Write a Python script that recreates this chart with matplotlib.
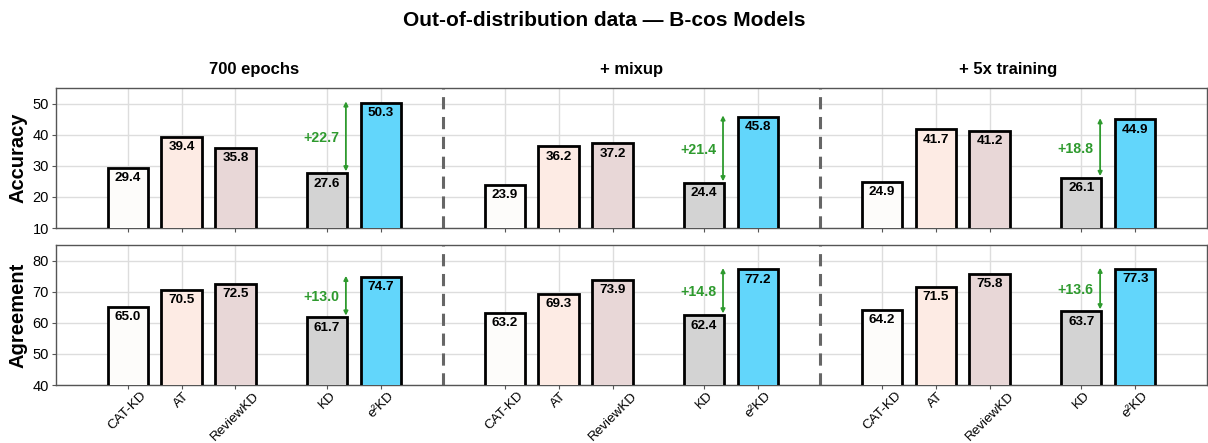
import matplotlib
matplotlib.use("Agg")
import matplotlib.pyplot as plt
import numpy as np

plt.rcParams['font.family'] = ['Liberation Sans', 'DejaVu Sans']

methods = ["CAT-KD", "AT", "ReviewKD", "KD", "e²KD"]
settings = ["700 epochs", "+ mixup", "+ 5x training"]
colors = ["#fdfcfa", "#fdebe4", "#e8d7d7", "#d3d3d3", "#62d6fb"]

accuracy = [
    [29.4, 39.4, 35.8, 27.6, 50.3],
    [23.9, 36.2, 37.2, 24.4, 45.8],
    [24.9, 41.7, 41.2, 26.1, 44.9],
]
agreement = [
    [65.0, 70.5, 72.5, 61.7, 74.7],
    [63.2, 69.3, 73.9, 62.4, 77.2],
    [64.2, 71.5, 75.8, 63.7, 77.3],
]

offsets = np.array([0.0, 1.0, 2.0, 3.7, 4.7])
group_step = 7.0
width = 0.75
green = "#2e9a2e"

fig = plt.figure(figsize=(12.08, 4.43), dpi=100)
ax_top = fig.add_axes([0.0464, 0.4853, 0.9526, 0.3161])
ax_bot = fig.add_axes([0.0464, 0.1309, 0.9526, 0.3161])

panels = [
    (ax_top, accuracy, "Accuracy", (10, 55), [10, 20, 30, 40, 50]),
    (ax_bot, agreement, "Agreement", (40, 85), [40, 50, 60, 70, 80]),
]

all_pos = np.concatenate([g * group_step + offsets for g in range(len(settings))])

for ax, data, label, ylim, yticks in panels:
    ax.set_axisbelow(True)
    ax.grid(True, color="#dddddd", linewidth=1.0)
    unit = (ylim[1] - ylim[0]) / 45.0
    for g, vals in enumerate(data):
        pos = g * group_step + offsets
        ax.bar(pos, vals, width=width, color=colors, edgecolor="black",
               linewidth=2.0, zorder=3)
        for x, v in zip(pos, vals):
            ax.text(x, v - 3.3 * unit, f"{v:.1f}",
                    ha="center", va="center", fontsize=9.7, fontweight="bold",
                    zorder=4)
        # gain of e²KD over KD
        kd, e2 = vals[3], vals[4]
        arr_x = pos[3] + 0.35
        ax.annotate("", xy=(arr_x, e2 + 0.4 * unit), xytext=(arr_x, kd + 0.6 * unit),
                    arrowprops=dict(arrowstyle="<|-|>", color=green, lw=1.3,
                                    mutation_scale=6, shrinkA=0, shrinkB=0),
                    zorder=5)
        ax.text(arr_x - 0.12, (kd + e2) / 2, f"+{e2 - kd:.1f}", color=green,
                ha="right", va="center", fontsize=10.2, fontweight="bold",
                zorder=5)
    for g in range(1, len(settings)):
        xd = (g - 1) * group_step + (offsets[-1] + group_step) / 2
        ax.axvline(xd, color="#666666", linewidth=2.2, linestyle=(0, (4, 2.5)),
                   zorder=2)
    ax.set_xlim(-1.33, 20.03)
    ax.set_ylim(*ylim)
    ax.set_yticks(yticks)
    ax.set_xticks(all_pos)
    ax.tick_params(axis="y", labelsize=10.5, length=3, color="#555555", pad=2)
    ax.tick_params(axis="x", labelsize=9.7, length=3, color="#555555", pad=0.5)
    ax.set_ylabel(label, fontsize=14.5, fontweight="bold")
    for s in ax.spines.values():
        s.set_color("#555555")
        s.set_linewidth(1.0)
    ax.yaxis.set_label_coords(-0.025, 0.5)

ax_top.set_xticklabels([])
ax_bot.set_xticklabels(methods * len(settings), rotation=45, ha="center")

for g, name in enumerate(settings):
    ax_top.text(g * group_step + offsets[-1] / 2, 1.08, name,
                transform=ax_top.get_xaxis_transform(),
                ha="center", va="bottom", fontsize=12, fontweight="bold")

fig.text(0.5, 0.953, "Out-of-distribution data — B-cos Models", ha="center",
         va="center", fontsize=15, fontweight="bold")

fig.savefig("out.png", dpi=100)
